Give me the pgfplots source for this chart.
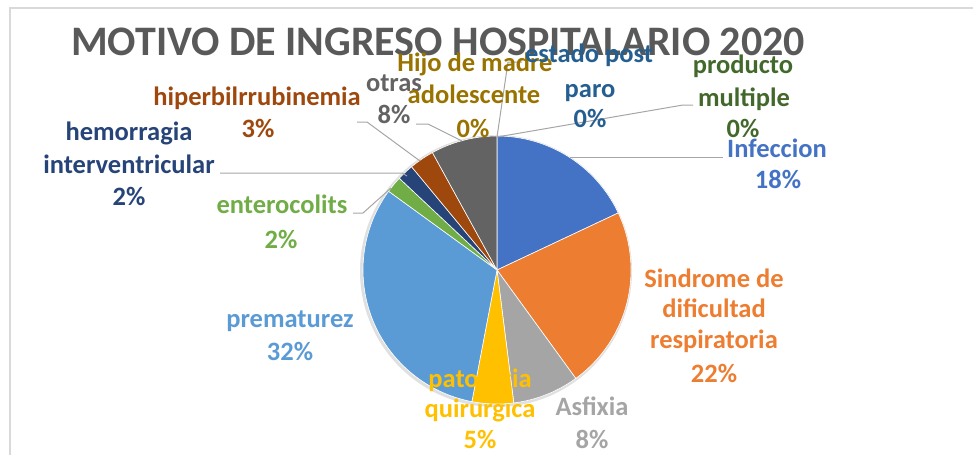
\documentclass[border=0pt]{standalone}
\usepackage{fontspec}
\setmainfont{Carlito}
\usepackage{pgfplots}
\pgfplotsset{compat=1.18}
\definecolor{cInf}{HTML}{4472C4}
\definecolor{cSdr}{HTML}{ED7D31}
\definecolor{cAsf}{HTML}{A5A5A5}
\definecolor{cPat}{HTML}{FFC000}
\definecolor{cPre}{HTML}{5B9BD5}
\definecolor{cEnt}{HTML}{70AD47}
\definecolor{cHem}{HTML}{264478}
\definecolor{cHip}{HTML}{9E480E}
\definecolor{cOtr}{HTML}{636363}
\definecolor{cHij}{HTML}{997300}
\definecolor{cEst}{HTML}{255E91}
\definecolor{cPro}{HTML}{43682B}
\definecolor{cTitle}{HTML}{595959}
\definecolor{cLead}{HTML}{A6A6A6}
\definecolor{cFrame}{HTML}{D9D9D9}
% slice: #1 cumulative percent before, #2 percent, #3 colour
\newcommand\slice[3]{\addplot[fill=#3, draw=white, line width=0.6pt, domain={90-3.6*(#1+#2)}:{90-3.6*(#1)}, samples=80, variable=\t] ({497+134*cos(\t)},{270-134*sin(\t)}) -- (axis cs:497,270) -- cycle;}
\newcommand\lf{\fontsize{26.5}{32}\selectfont\bfseries}
\newcommand\lbl[4]{\node[anchor=base, text=#3, font=\lf, inner sep=0pt] at (axis cs:#1,#2) {#4};}
\begin{document}
\begin{tikzpicture}
\begin{axis}[
  x=1pt, y=1pt, xmin=0, xmax=973, ymin=0, ymax=455,
  y dir=reverse, hide axis, enlargelimits=false, clip=false,
  anchor=south west, at={(0,0)}
]
% frame
\draw[cFrame, line width=1.5pt] (axis cs:10,455) -- (axis cs:10,8) -- (axis cs:973,8);
% soft shadow
\draw[black!12, line width=3pt] (axis cs:496,271) circle[radius=134.5pt];
% pie: Infeccion 18, Sindrome 22, Asfixia 8, patologia 5, prematurez 32,
% enterocolits 2, hemorragia 2, hiperbilirrubinemia 3, otras 8,
% Hijo de madre adolescente 0, estado post paro 0, producto multiple 0
\slice{0}{18}{cInf}
\slice{18}{22}{cSdr}
\slice{40}{8}{cAsf}
\slice{48}{5}{cPat}
\slice{53}{32}{cPre}
\slice{85}{2}{cEnt}
\slice{87}{2}{cHem}
\slice{89}{3}{cHip}
\slice{92}{8}{cOtr}
% leader lines
\draw[cLead, line width=1pt] (axis cs:570,157) -- (axis cs:723,157);
\draw[cLead, line width=1pt] (axis cs:497,137) -- (axis cs:683,105) -- (axis cs:693,105);
\draw[cLead, line width=1pt] (axis cs:497,137) -- (axis cs:508,62) -- (axis cs:522,62);
\draw[cLead, line width=1pt] (axis cs:462,141) -- (axis cs:428,124) -- (axis cs:416,124);
\draw[cLead, line width=1pt] (axis cs:420,161) -- (axis cs:367,122) -- (axis cs:357,122);
\draw[cLead, line width=1pt] (axis cs:220,173) -- (axis cs:402,173) -- (axis cs:407,176);
\draw[cLead, line width=1pt] (axis cs:353,213) -- (axis cs:363,213) -- (axis cs:391,188);
% title
\node[anchor=base, text=cTitle, font=\fontsize{42}{50}\selectfont\bfseries, inner sep=0pt] at (axis cs:438,55) {MOTIVO DE INGRESO HOSPITALARIO 2020};
% labels
\lbl{777}{157}{cInf}{Infeccion}
\lbl{778}{188}{cInf}{18\%}
\lbl{714}{287}{cSdr}{Sindrome de}
\lbl{714}{317}{cSdr}{dificultad}
\lbl{714}{348}{cSdr}{respiratoria}
\lbl{714}{382}{cSdr}{22\%}
\lbl{592}{415}{cAsf}{Asfixia}
\lbl{592}{448}{cAsf}{8\%}
\lbl{480}{387}{cPat}{patologia}
\lbl{480}{417}{cPat}{quirurgica}
\lbl{480}{448}{cPat}{5\%}
\lbl{290}{327}{cPre}{prematurez}
\lbl{290}{360}{cPre}{32\%}
\lbl{282}{213}{cEnt}{enterocolits}
\lbl{281}{248}{cEnt}{2\%}
\lbl{129}{140}{cHem}{hemorragia}
\lbl{129}{173}{cHem}{interventricular}
\lbl{129}{205}{cHem}{2\%}
\lbl{257}{105}{cHip}{hiperbilrrubinemia}
\lbl{258}{137}{cHip}{3\%}
\lbl{394}{91}{cOtr}{otras}
\lbl{394}{123}{cOtr}{8\%}
\lbl{475}{71}{cHij}{Hijo de madre}
\lbl{474}{103}{cHij}{adolescente}
\lbl{473}{137}{cHij}{0\%}
\lbl{589}{62}{cEst}{estado post}
\lbl{590}{97}{cEst}{paro}
\lbl{590}{127}{cEst}{0\%}
\lbl{743}{73}{cPro}{producto}
\lbl{744}{106}{cPro}{multiple}
\lbl{743}{137}{cPro}{0\%}
\end{axis}
\pgfresetboundingbox
\useasboundingbox (0,0) rectangle (973pt,455pt);
\end{tikzpicture}
\end{document}
